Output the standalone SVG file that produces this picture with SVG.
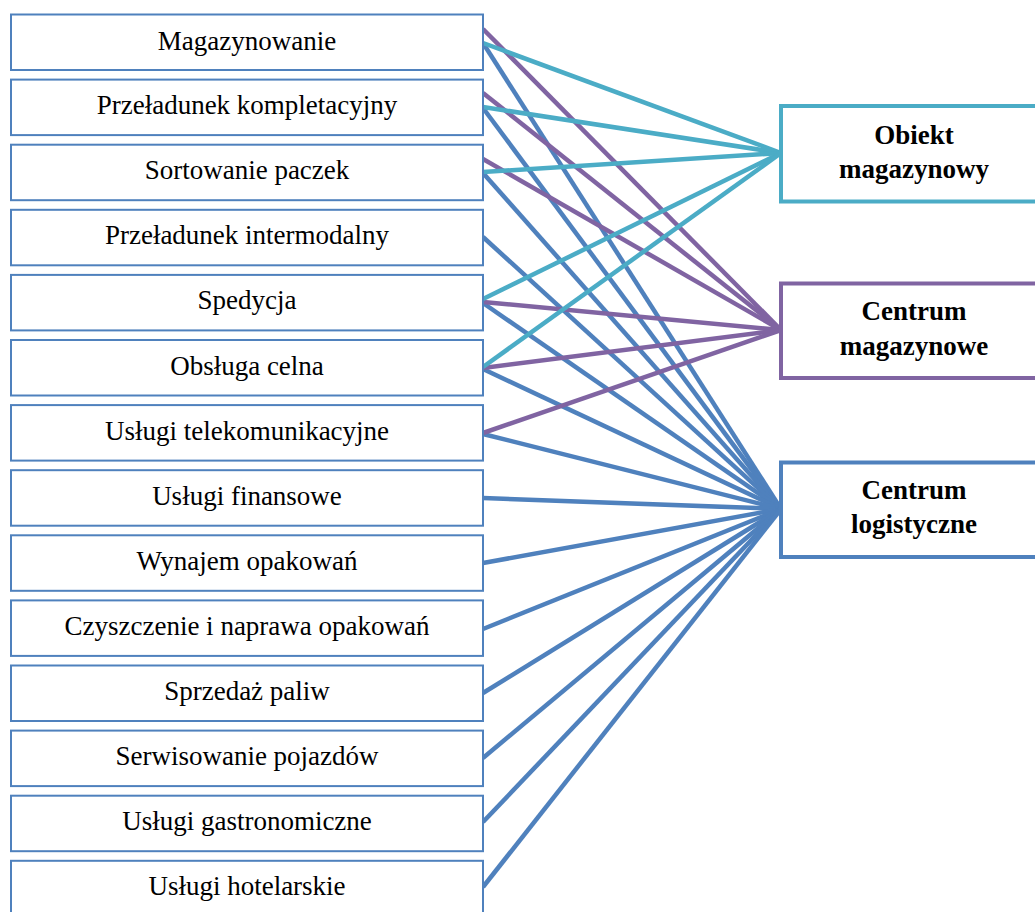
<svg xmlns="http://www.w3.org/2000/svg" width="1035" height="912" viewBox="0 0 1035 912">
<style>
.lb{fill:#fff;stroke:#4F81BD;stroke-width:2}
.lt{font-family:"Liberation Serif","Times New Roman",serif;font-size:27px;fill:#000;text-anchor:middle}
.rt{font-family:"Liberation Serif","Times New Roman",serif;font-size:27px;font-weight:bold;fill:#000;text-anchor:middle}
.c{stroke:#4BACC6;stroke-width:4.5;fill:none}
.p{stroke:#8064A2;stroke-width:4.5;fill:none}
.b{stroke:#4F81BD;stroke-width:4.5;fill:none}
</style>
<rect width="1035" height="912" fill="#fff"/>
<g id="connectors">
<g class="b-lines">
<line class="b" x1="483" y1="43" x2="781" y2="509"/>
<line class="b" x1="483" y1="108" x2="781" y2="509"/>
<line class="b" x1="483" y1="173" x2="781" y2="509"/>
<line class="b" x1="483" y1="237" x2="781" y2="509"/>
<line class="b" x1="483" y1="303" x2="781" y2="509"/>
<line class="b" x1="483" y1="369" x2="781" y2="509"/>
<line class="b" x1="483" y1="434" x2="781" y2="509"/>
<line class="b" x1="483" y1="498" x2="781" y2="509"/>
<line class="b" x1="483" y1="563" x2="781" y2="509"/>
<line class="b" x1="483" y1="629" x2="781" y2="509"/>
<line class="b" x1="483" y1="693" x2="781" y2="509"/>
<line class="b" x1="483" y1="758" x2="781" y2="509"/>
<line class="b" x1="483" y1="822" x2="781" y2="509"/>
<line class="b" x1="483" y1="887" x2="781" y2="509"/>
</g>
<g class="p-lines">
<line class="p" x1="483" y1="29" x2="781" y2="330"/>
<line class="p" x1="483" y1="93" x2="781" y2="330"/>
<line class="p" x1="483" y1="159" x2="781" y2="330"/>
<line class="p" x1="483" y1="302" x2="781" y2="330"/>
<line class="p" x1="483" y1="368" x2="781" y2="330"/>
<line class="p" x1="483" y1="433" x2="781" y2="330"/>
</g>
<g class="c-lines">
<line class="c" x1="483" y1="43" x2="781" y2="153"/>
<line class="c" x1="483" y1="107" x2="781" y2="153"/>
<line class="c" x1="483" y1="172" x2="781" y2="153"/>
<line class="c" x1="483" y1="299" x2="781" y2="153"/>
<line class="c" x1="483" y1="367" x2="781" y2="153"/>
</g>
</g>
<g id="n1"><rect class="lb" x="11" y="14.5" width="472" height="55.5"/><text class="lt" x="247" y="49.5">Magazynowanie</text></g>
<g id="n2"><rect class="lb" x="11" y="79.6" width="472" height="55.5"/><text class="lt" x="247" y="114">Przeładunek kompletacyjny</text></g>
<g id="n3"><rect class="lb" x="11" y="144.7" width="472" height="55.5"/><text class="lt" x="247" y="179">Sortowanie paczek</text></g>
<g id="n4"><rect class="lb" x="11" y="209.8" width="472" height="55.5"/><text class="lt" x="247" y="244">Przeładunek intermodalny</text></g>
<g id="n5"><rect class="lb" x="11" y="274.9" width="472" height="55.5"/><text class="lt" x="247" y="309">Spedycja</text></g>
<g id="n6"><rect class="lb" x="11" y="340" width="472" height="55.5"/><text class="lt" x="247" y="374.5">Obsługa celna</text></g>
<g id="n7"><rect class="lb" x="11" y="405.1" width="472" height="55.5"/><text class="lt" x="247" y="439.5">Usługi telekomunikacyjne</text></g>
<g id="n8"><rect class="lb" x="11" y="470.2" width="472" height="55.5"/><text class="lt" x="247" y="504.5">Usługi finansowe</text></g>
<g id="n9"><rect class="lb" x="11" y="535.3" width="472" height="55.5"/><text class="lt" x="247" y="569.5">Wynajem opakowań</text></g>
<g id="n10"><rect class="lb" x="11" y="600.4" width="472" height="55.5"/><text class="lt" x="247" y="635">Czyszczenie i naprawa opakowań</text></g>
<g id="n11"><rect class="lb" x="11" y="665.5" width="472" height="55.5"/><text class="lt" x="247" y="700">Sprzedaż paliw</text></g>
<g id="n12"><rect class="lb" x="11" y="730.6" width="472" height="55.5"/><text class="lt" x="247" y="765">Serwisowanie pojazdów</text></g>
<g id="n13"><rect class="lb" x="11" y="795.7" width="472" height="55.5"/><text class="lt" x="247" y="830">Usługi gastronomiczne</text></g>
<g id="n14"><rect class="lb" x="11" y="860.8" width="472" height="55.5"/><text class="lt" x="247" y="895">Usługi hotelarskie</text></g>
<g id="obiekt"><rect x="781" y="106" width="266" height="95.5" fill="#fff" stroke="#4BACC6" stroke-width="4"/><text class="rt" x="914" y="143.5">Obiekt</text><text class="rt" x="914" y="177.5">magazynowy</text></g>
<g id="cmag"><rect x="781" y="283.5" width="266" height="94.5" fill="#fff" stroke="#8064A2" stroke-width="4"/><text class="rt" x="914" y="320">Centrum</text><text class="rt" x="914" y="355">magazynowe</text></g>
<g id="clog"><rect x="781" y="462.5" width="266" height="94.5" fill="#fff" stroke="#4F81BD" stroke-width="4"/><text class="rt" x="914" y="498.5">Centrum</text><text class="rt" x="914" y="533">logistyczne</text></g>
</svg>
